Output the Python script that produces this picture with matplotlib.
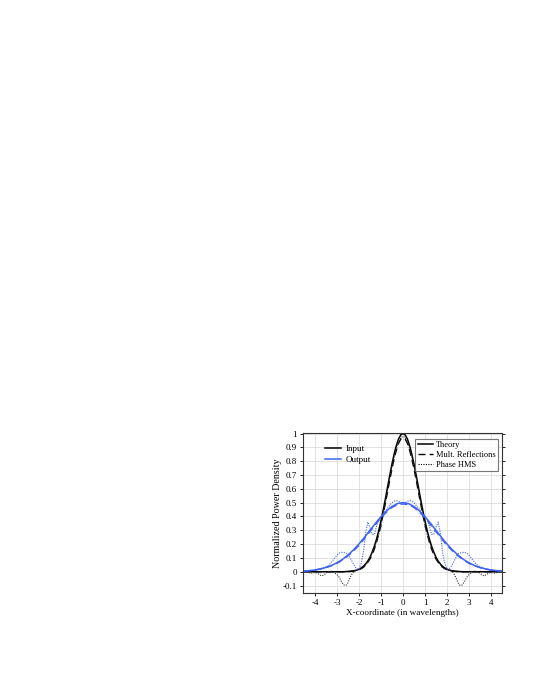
"""Input / output beam profiles: theory vs multiple reflections vs phase HMS"""

import matplotlib
matplotlib.use("Agg")
import matplotlib.pyplot as plt
from matplotlib.lines import Line2D

# coarse grid for the wide output curves
x_smooth = [-4.5, -4.25, -4.0, -3.75, -3.5, -3.25, -3.0, -2.75, -2.5, -2.25,
            -2.0, -1.75, -1.5, -1.25, -1.0, -0.75, -0.5, -0.25, 0.0,
            0.25, 0.5, 0.75, 1.0, 1.25, 1.5, 1.75, 2.0, 2.25, 2.5, 2.75,
            3.0, 3.25, 3.5, 3.75, 4.0, 4.25, 4.5]

output_theory = [0.005, 0.008, 0.013, 0.02, 0.031, 0.045, 0.065, 0.089, 0.121, 0.158,
                 0.201, 0.249, 0.3, 0.351, 0.398, 0.44, 0.472, 0.493, 0.5,
                 0.493, 0.472, 0.44, 0.398, 0.351, 0.3, 0.249, 0.201, 0.158, 0.121, 0.089,
                 0.065, 0.045, 0.031, 0.02, 0.013, 0.008, 0.005]
output_mult = [0.005, 0.008, 0.012, 0.02, 0.03, 0.043, 0.06, 0.085, 0.115, 0.15,
               0.19, 0.24, 0.29, 0.34, 0.39, 0.43, 0.465, 0.485, 0.49,
               0.485, 0.465, 0.43, 0.39, 0.34, 0.29, 0.24, 0.19, 0.15, 0.115, 0.085,
               0.06, 0.043, 0.03, 0.02, 0.012, 0.008, 0.005]

# fine grid (step 0.1) for the narrow input curves and the phase HMS curves
x_fine = [round(-4.5 + 0.1 * i, 1) for i in range(91)]

# left half, x = -4.5 ... 0 (the profiles are symmetric)
input_theory_half = [0] * 19 + [0.001, 0.002, 0.003, 0.005, 0.008, 0.012,
                                0.018, 0.027, 0.039, 0.056, 0.077, 0.105, 0.141, 0.185,
                                0.237, 0.298, 0.368, 0.445, 0.527, 0.613, 0.698, 0.779,
                                0.852, 0.914, 0.961, 0.99, 1.0]
input_mult_half = [0] * 20 + [0.001, 0.002, 0.004, 0.006, 0.01,
                              0.015, 0.022, 0.033, 0.048, 0.068, 0.093, 0.125, 0.165,
                              0.215, 0.275, 0.34, 0.415, 0.495, 0.58, 0.665, 0.745,
                              0.82, 0.88, 0.93, 0.96, 0.97]
input_hms_half = [0.0, 0.0, -0.005, -0.01, -0.01, -0.005, -0.01, -0.02, -0.03, -0.025,
                  -0.01, 0.0, 0.005, 0.0, -0.01, -0.02, -0.04, -0.07, -0.095, -0.1,
                  -0.08, -0.04, -0.01, 0.005, 0.01, 0.015, 0.02, 0.03, 0.05, 0.07,
                  0.1, 0.14, 0.18, 0.22, 0.27, 0.33, 0.42, 0.5, 0.59, 0.68,
                  0.76, 0.83, 0.89, 0.94, 0.97, 0.98]
output_hms_half = [0.005, 0.006, 0.007, 0.008, 0.01, 0.012, 0.015, 0.02, 0.025, 0.03,
                   0.035, 0.045, 0.06, 0.08, 0.1, 0.12, 0.135, 0.14, 0.14, 0.135,
                   0.13, 0.1, 0.07, 0.04, 0.02, 0.02, 0.06, 0.14, 0.28, 0.36,
                   0.32, 0.27, 0.27, 0.33, 0.38, 0.4, 0.42, 0.44, 0.46, 0.48,
                   0.5, 0.51, 0.515, 0.51, 0.5, 0.495]

x_ticks = [-4, -3, -2, -1, 0, 1, 2, 3, 4]
y_ticks = [-0.1, 0, 0.1, 0.2, 0.3, 0.4, 0.5, 0.6, 0.7, 0.8, 0.9, 1]
y_tick_labels = ["-0.1", "0", "0.1", "0.2", "0.3", "0.4", "0.5", "0.6", "0.7", "0.8", "0.9", "1"]

BLUE = "#3f63ef"
DASH = (0, (5, 3))
DOT = (0, (1, 1.2))


def mirror(half: list) -> list:
    """full symmetric profile from its left half"""
    return half + half[-2::-1]


def main() -> None:
    """main function"""
    plt.rcParams["font.family"] = ["Liberation Serif", "DejaVu Serif"]
    plt.rcParams["axes.unicode_minus"] = False
    fig = plt.figure(figsize=(5.38, 6.97), dpi=100)
    ax = fig.add_axes([0.563, 0.149, 0.370, 0.230])

    ax.plot(x_fine, mirror(input_theory_half), color="black", lw=1.1)
    ax.plot(x_fine, mirror(input_mult_half), color="black", lw=1.0, ls=DASH)
    ax.plot(x_fine, mirror(input_hms_half), color="#333333", lw=0.8, ls=DOT)
    ax.plot(x_smooth, output_theory, color=BLUE, lw=1.1)
    ax.plot(x_smooth, output_mult, color=BLUE, lw=1.0, ls=DASH)
    ax.plot(x_fine, mirror(output_hms_half), color=BLUE, lw=0.8, ls=DOT)

    ax.set_xlim(-4.55, 4.5)
    ax.set_ylim(-0.155, 1.005)
    ax.set_xticks(x_ticks)
    ax.set_xticklabels([str(t) for t in x_ticks])
    ax.set_yticks(y_ticks)
    ax.set_yticklabels(y_tick_labels)
    ax.tick_params(labelsize=6.5, length=2.5, width=0.6, pad=2)
    ax.tick_params(axis="y", right=True, which="both")
    ax.grid(True, color="#dddddd", lw=0.6)
    ax.set_axisbelow(True)
    for s in ax.spines.values():
        s.set_linewidth(0.8)
        s.set_color("#333333")

    ax.set_xlabel("X-coordinate (in wavelengths)", fontsize=6.6, labelpad=1)
    ax.set_ylabel("Normalized Power Density", fontsize=7.2, labelpad=0)

    # Легенда по пучкам
    h1 = [Line2D([], [], color="black", lw=1.1), Line2D([], [], color=BLUE, lw=1.1)]
    leg1 = ax.legend(h1, ["Input", "Output"], loc="upper left",
                     bbox_to_anchor=(0.07, 0.975), frameon=False, fontsize=6.5,
                     handlelength=1.8, handletextpad=0.5, labelspacing=0.25)
    ax.add_artist(leg1)

    # Легенда по методам
    h2 = [Line2D([], [], color="black", lw=1.1),
          Line2D([], [], color="black", lw=1.0, ls=DASH),
          Line2D([], [], color="black", lw=0.8, ls=DOT)]
    leg2 = ax.legend(h2, ["Theory", "Mult. Reflections", "Phase HMS"], loc="upper right",
                     bbox_to_anchor=(0.981, 0.963), frameon=True, fancybox=False,
                     fontsize=6.0, handlelength=1.8, handletextpad=0.4,
                     labelspacing=0.2, borderpad=0.3, borderaxespad=0)
    leg2.get_frame().set_edgecolor("#555555")
    leg2.get_frame().set_linewidth(0.8)

    fig.savefig("out.png", dpi=100)


if __name__ == "__main__":
    main()
